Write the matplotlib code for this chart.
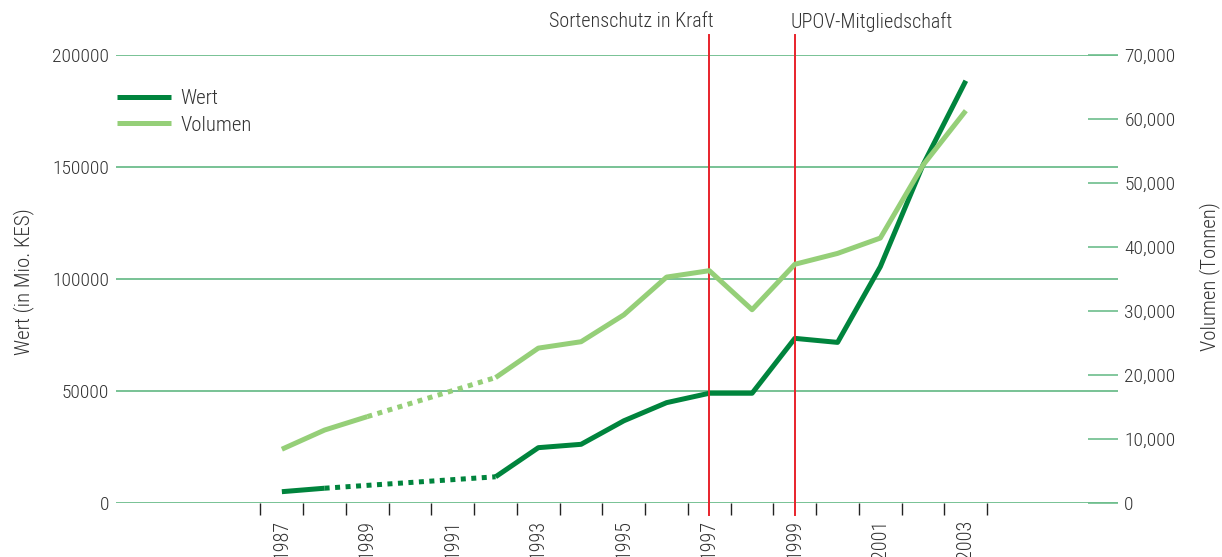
import numpy as np
import matplotlib
matplotlib.use("Agg")
import matplotlib.pyplot as plt
import matplotlib.transforms as mtransforms
from matplotlib.ticker import FixedLocator, FuncFormatter

plt.rcParams['font.family'] = ['Roboto Condensed', 'Open Sans', 'DejaVu Sans']
plt.rcParams['font.stretch'] = 'condensed'
plt.rcParams['font.weight'] = 300

# --- data -----------------------------------------------------------------
years = list(range(1987, 2004))
wert = [5050, 6600, np.nan, np.nan, np.nan, 11700, 24700, 26200, 36700,
        44800, 49000, 49000, 73500, 71700, 105500, 151000, 188500]
volumen = [8400, 11400, 13500, np.nan, np.nan, 19600, 24200, 25200, 29400,
           35300, 36300, 30200, 37300, 39000, 41400, 52800, 61300]
events = [(1997, "Sortenschutz in Kraft", "right"),
          (1999, "UPOV-Mitgliedschaft", "left")]
left_ticks = [0, 50000, 100000, 150000, 200000]
right_ticks = [0, 10000, 20000, 30000, 40000, 50000, 60000, 70000]

# --- style ----------------------------------------------------------------
DARK = "#00843d"
LIGHT = "#95cf78"
GRID = "#6dbd8c"
RED = "#e8232b"
TXT = "#333333"

fig = plt.figure(figsize=(12.22, 5.57), dpi=100)
ax = fig.add_axes([116 / 1222, 54 / 557, 1002 / 1222, 448 / 557])
ax2 = ax.twinx()

x = np.arange(len(years))


def bridge(vals):
    """Return (xs, ys) pairs spanning each run of missing values."""
    vals = np.asarray(vals, dtype=float)
    out = []
    i = 0
    while i < len(vals):
        if np.isnan(vals[i]):
            j = i
            while j < len(vals) and np.isnan(vals[j]):
                j += 1
            out.append(([i - 1, j], [vals[i - 1], vals[j]]))
            i = j
        else:
            i += 1
    return out


lw = 3.6
ax.plot(x, wert, color=DARK, lw=lw, solid_capstyle="butt", zorder=5, label="Wert")
for xs, ys in bridge(wert):
    ax.plot(xs, ys, color=DARK, lw=lw, ls=(0, (1, 1.1)), dash_capstyle="butt", zorder=5)

ax2.plot(x, volumen, color=LIGHT, lw=lw, solid_capstyle="butt", zorder=4, label="Volumen")
for xs, ys in bridge(volumen):
    ax2.plot(xs, ys, color=LIGHT, lw=lw, ls=(0, (1, 1.1)), dash_capstyle="butt", zorder=4)

# limits
ax.set_xlim(-3.88, 19.56)
ax.set_ylim(0, 200000)
ax2.set_ylim(0, 70000)

# left axis: full-width grid
ax.yaxis.set_major_locator(FixedLocator(left_ticks))
ax.yaxis.set_major_formatter(FuncFormatter(lambda v, p: f"{int(v)}"))
ax.tick_params(axis="y", length=0, pad=5, labelsize=14, labelcolor=TXT)
ax.grid(axis="y", color=GRID, lw=1.3)
ax.set_axisbelow(True)

# right axis: short inward ticks
ax2.yaxis.set_major_locator(FixedLocator(right_ticks))
ax2.yaxis.set_major_formatter(FuncFormatter(lambda v, p: f"{int(v):,}"))
ax2.tick_params(axis="y", direction="in", length=21.6, width=1.2, color=GRID,
                pad=4.5, labelsize=14, labelcolor=TXT)

# x axis: boundary ticks, labels centred on every other year
ax.xaxis.set_major_locator(FixedLocator(np.arange(len(years) + 1) - 0.5))
ax.xaxis.set_major_formatter(FuncFormatter(lambda v, p: ""))
ax.xaxis.set_minor_locator(FixedLocator(x[::2]))
ax.xaxis.set_minor_formatter(FuncFormatter(lambda v, p: str(years[int(round(v))])))
ax.tick_params(axis="x", which="major", direction="out", length=8.6, width=1.0,
               color="#222222")
ax.tick_params(axis="x", which="minor", length=0, pad=12, labelsize=14.5,
               labelcolor=TXT, labelrotation=90)

for a in (ax, ax2):
    for s in a.spines.values():
        s.set_visible(False)

# event markers
trans = mtransforms.blended_transform_factory(ax.transData, ax.transAxes)
for yr, label, ha in events:
    xi = years.index(yr)
    ax.plot([xi, xi], [-0.027, 1.045], transform=trans, color=RED, lw=1.4,
            clip_on=False, zorder=6)
    off = 0.1 if ha == "right" else -0.09
    ax.text(xi + off, 1.074, label, transform=trans, ha=ha, va="center",
            fontsize=14.5, color=TXT)

# axis titles
fig.text(0.0196, 0.4937, "Wert (in Mio. KES)", rotation=90, ha="center",
         va="center", fontsize=15, color=TXT)
fig.text(1210 / 1222, (557 - 277) / 557, "Volumen (Tonnen)", rotation=90,
         ha="center", va="center", fontsize=15, color=TXT)

# legend
h1, l1 = ax.get_legend_handles_labels()
h2, l2 = ax2.get_legend_handles_labels()
leg = ax2.legend(h1 + h2, l1 + l2, loc="upper left", bbox_to_anchor=(-0.0075, 0.943),
                 frameon=False, fontsize=15, handlelength=2.6, handletextpad=0.45,
                 labelspacing=0.38, borderaxespad=0)
for t in leg.get_texts():
    t.set_color(TXT)

fig.savefig("out.png", dpi=100)
